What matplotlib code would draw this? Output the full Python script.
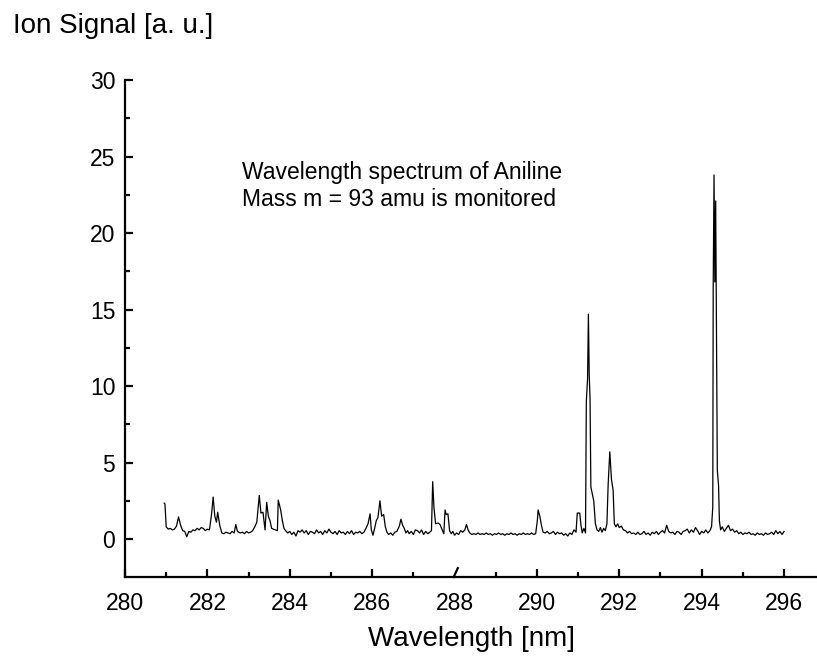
import matplotlib
matplotlib.use("Agg")
import matplotlib.pyplot as plt
from matplotlib.ticker import MultipleLocator

plt.rcParams['font.family'] = ['Liberation Sans', 'DejaVu Sans']

# Aniline REMPI scan, m = 93 amu channel
wavelength = [
    280.95, 280.97, 281.00, 281.05, 281.10, 281.15, 281.20, 281.25, 281.30, 281.35,
    281.40, 281.45, 281.50, 281.55, 281.60, 281.65, 281.70, 281.75, 281.80, 281.85,
    281.90, 281.95, 282.00, 282.05, 282.10, 282.14, 282.18, 282.22, 282.25, 282.30,
    282.35, 282.40, 282.45, 282.50, 282.55, 282.60, 282.65, 282.69, 282.73, 282.80,
    282.85, 282.90, 282.95, 283.00, 283.05, 283.10, 283.15, 283.20, 283.26, 283.30,
    283.35, 283.40, 283.44, 283.48, 283.52, 283.56, 283.60, 283.65, 283.70, 283.72,
    283.78, 283.82, 283.86, 283.90, 283.95, 284.00, 284.05, 284.10, 284.15, 284.20,
    284.25, 284.30, 284.35, 284.40, 284.45, 284.50, 284.55, 284.60, 284.65, 284.70,
    284.75, 284.80, 284.85, 284.90, 284.95, 285.00, 285.05, 285.10, 285.15, 285.20,
    285.25, 285.30, 285.35, 285.40, 285.45, 285.50, 285.55, 285.60, 285.65, 285.70,
    285.75, 285.80, 285.85, 285.90, 285.95, 285.98, 286.02, 286.06, 286.10, 286.14,
    286.19, 286.23, 286.28, 286.32, 286.36, 286.40, 286.45, 286.50, 286.55, 286.60,
    286.66, 286.70, 286.74, 286.78, 286.82, 286.86, 286.90, 286.95, 287.00, 287.05,
    287.10, 287.15, 287.20, 287.25, 287.30, 287.35, 287.40, 287.44, 287.47, 287.50,
    287.54, 287.60, 287.65, 287.70, 287.74, 287.77, 287.80, 287.84, 287.88, 287.92,
    287.96, 288.00, 288.05, 288.10, 288.15, 288.20, 288.25, 288.29, 288.33, 288.37,
    288.42, 288.47, 288.52, 288.57, 288.62, 288.67, 288.72, 288.77, 288.82, 288.87,
    288.92, 288.97, 289.02, 289.07, 289.12, 289.17, 289.22, 289.27, 289.32, 289.37,
    289.42, 289.47, 289.52, 289.57, 289.62, 289.67, 289.72, 289.77, 289.82, 289.87,
    289.92, 289.97, 290.01, 290.03, 290.07, 290.11, 290.15, 290.20, 290.25, 290.30,
    290.35, 290.40, 290.45, 290.50, 290.55, 290.60, 290.65, 290.70, 290.75, 290.80,
    290.85, 290.90, 290.95, 290.98, 291.04, 291.07, 291.10, 291.14, 291.18, 291.20,
    291.23, 291.25, 291.27, 291.29, 291.31, 291.38, 291.42, 291.46, 291.50, 291.54,
    291.58, 291.62, 291.66, 291.70, 291.73, 291.77, 291.81, 291.85, 291.88, 291.92,
    291.96, 292.00, 292.05, 292.10, 292.15, 292.20, 292.25, 292.30, 292.35, 292.40,
    292.45, 292.50, 292.55, 292.60, 292.65, 292.70, 292.75, 292.80, 292.85, 292.90,
    292.95, 293.00, 293.05, 293.10, 293.15, 293.20, 293.25, 293.30, 293.35, 293.40,
    293.45, 293.50, 293.55, 293.60, 293.65, 293.70, 293.75, 293.80, 293.85, 293.90,
    293.95, 294.00, 294.05, 294.10, 294.15, 294.20, 294.24, 294.27, 294.28, 294.30,
    294.32, 294.34, 294.38, 294.41, 294.43, 294.46, 294.50, 294.55, 294.60, 294.65,
    294.70, 294.75, 294.80, 294.85, 294.90, 294.95, 295.00, 295.05, 295.10, 295.15,
    295.20, 295.25, 295.30, 295.35, 295.40, 295.45, 295.50, 295.55, 295.60, 295.65,
    295.70, 295.75, 295.80, 295.85, 295.90, 295.95, 296.00,
]
ion_signal = [
    2.35, 2.30, 0.80, 0.65, 0.70, 0.60, 0.65, 0.85, 1.45, 0.90,
    0.55, 0.50, 0.15, 0.50, 0.45, 0.60, 0.55, 0.70, 0.60, 0.75,
    0.70, 0.55, 0.65, 0.60, 1.60, 2.75, 1.50, 1.10, 1.75, 0.90,
    0.40, 0.35, 0.45, 0.40, 0.35, 0.50, 0.40, 0.95, 0.50, 0.40,
    0.45, 0.35, 0.50, 0.40, 0.45, 0.55, 0.80, 1.10, 2.85, 1.70,
    1.75, 0.60, 2.40, 1.50, 1.20, 0.70, 0.65, 0.60, 0.55, 2.55,
    1.90, 1.20, 0.70, 0.55, 0.40, 0.50, 0.30, 0.45, 0.20, 0.55,
    0.45, 0.60, 0.40, 0.55, 0.30, 0.50, 0.45, 0.35, 0.60, 0.40,
    0.50, 0.30, 0.55, 0.40, 0.65, 0.45, 0.35, 0.50, 0.30, 0.55,
    0.40, 0.45, 0.30, 0.50, 0.35, 0.55, 0.30, 0.45, 0.40, 0.50,
    0.35, 0.45, 0.70, 1.00, 1.65, 0.60, 0.25, 0.70, 1.20, 1.40,
    2.50, 1.50, 1.60, 0.80, 0.45, 0.30, 0.40, 0.25, 0.45, 0.50,
    0.85, 1.30, 0.90, 0.70, 0.40, 0.55, 0.35, 0.50, 0.30, 0.60,
    0.55, 0.40, 0.60, 0.30, 0.50, 0.35, 0.45, 0.55, 3.75, 2.10,
    1.00, 1.05, 0.95, 0.60, 0.35, 1.90, 1.60, 1.65, 0.55, 0.35,
    0.50, 0.25, 0.40, 0.30, 0.55, 0.45, 0.60, 0.95, 0.60, 0.40,
    0.30, 0.35, 0.30, 0.40, 0.30, 0.35, 0.30, 0.40, 0.30, 0.35,
    0.25, 0.35, 0.30, 0.40, 0.30, 0.35, 0.25, 0.35, 0.30, 0.40,
    0.30, 0.35, 0.25, 0.35, 0.30, 0.40, 0.30, 0.35, 0.30, 0.40,
    0.30, 0.35, 1.20, 1.90, 1.50, 0.90, 0.45, 0.40, 0.50, 0.35,
    0.40, 0.50, 0.30, 0.45, 0.35, 0.40, 0.25, 0.35, 0.20, 0.40,
    0.30, 0.60, 0.45, 1.70, 1.70, 0.90, 0.40, 0.70, 0.40, 9.00,
    10.50, 14.70, 10.70, 9.20, 3.40, 2.50, 1.00, 0.60, 0.50, 0.75,
    0.45, 0.70, 0.55, 1.00, 3.60, 5.70, 3.90, 3.20, 1.00, 0.80,
    1.00, 0.75, 0.85, 0.60, 0.55, 0.40, 0.50, 0.35, 0.40, 0.30,
    0.45, 0.30, 0.35, 0.50, 0.30, 0.40, 0.25, 0.45, 0.35, 0.50,
    0.30, 0.45, 0.55, 0.40, 0.90, 0.50, 0.40, 0.45, 0.30, 0.50,
    0.45, 0.30, 0.50, 0.55, 0.65, 0.40, 0.60, 0.45, 0.75, 0.55,
    0.30, 0.50, 0.40, 0.60, 0.40, 0.55, 0.80, 2.10, 16.50, 23.80,
    16.80, 22.10, 4.50, 3.50, 1.20, 0.60, 0.80, 0.50, 0.70, 0.90,
    0.55, 0.65, 0.45, 0.55, 0.35, 0.45, 0.30, 0.40, 0.35, 0.45,
    0.30, 0.35, 0.25, 0.40, 0.30, 0.35, 0.25, 0.40, 0.30, 0.35,
    0.45, 0.30, 0.55, 0.35, 0.50, 0.30, 0.50,
]

fig = plt.figure(figsize=(8.17, 6.56), dpi=100)
ax = fig.add_axes([0.153, 0.1204, 0.847, 0.7576])

ax.plot(wavelength, ion_signal, color='black', lw=0.9)

ax.set_xlim(280, 296.8)
ax.set_ylim(-2.48, 30)
ax.xaxis.set_major_locator(MultipleLocator(2))
ax.xaxis.set_minor_locator(MultipleLocator(1))
ax.yaxis.set_major_locator(MultipleLocator(5))
ax.yaxis.set_minor_locator(MultipleLocator(2.5))

for side in ['top', 'right']:
    ax.spines[side].set_visible(False)
for side in ['left', 'bottom']:
    ax.spines[side].set_linewidth(1.6)

ax.tick_params(axis='both', which='both', direction='in', width=1.6, labelsize=16.5)
ax.tick_params(axis='both', which='major', length=6)
ax.tick_params(axis='both', which='minor', length=3.5)
ax.tick_params(axis='x', which='major', pad=11)
ax.tick_params(axis='y', which='major', pad=7)

# the 288 tick is drawn slanted
fig.canvas.draw()
for tick in ax.xaxis.get_major_ticks():
    if abs(tick.get_loc() - 288) < 1e-6:
        tick.tick1line.set_visible(False)
ax.plot([287.98, 288.08], [0.0, 0.018], color='black', lw=1.6,
        transform=ax.get_xaxis_transform(), clip_on=False)

ax.set_xlabel('Wavelength [nm]', fontsize=20, labelpad=8)
fig.text(0.016, 0.95, 'Ion Signal [a. u.]', fontsize=20, va='baseline', ha='left')

ax.text(282.85, 23.5, 'Wavelength spectrum of Aniline', fontsize=16.5, va='baseline')
ax.text(282.85, 21.8, 'Mass m = 93 amu is monitored', fontsize=16.5, va='baseline')

fig.savefig('out.png', dpi=100)
